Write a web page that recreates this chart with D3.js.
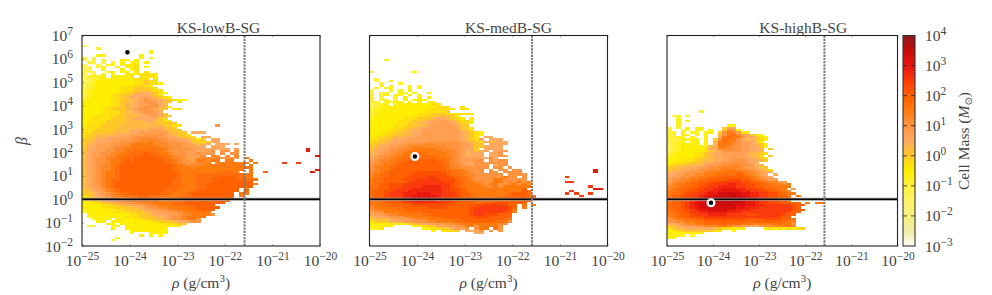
<!DOCTYPE html>
<html>
<head>
<meta charset="utf-8">
<script src="https://cdn.jsdelivr.net/npm/d3@7/dist/d3.min.js"></script>
<style>
html, body { margin: 0; padding: 0; background: #fff; }
text { font-family: "Liberation Serif", serif; fill: #444; }
</style>
</head>
<body>
<svg id="chart" width="992" height="295">
<defs><filter id="soft" x="-2%" y="-2%" width="104%" height="104%"><feGaussianBlur stdDeviation="0.4"/></filter></defs>
</svg>
<script>
// every char is one 0.1 dex x 0.1 dex bin, '.' is empty
// char is base 36, value n means log10(cell mass) = -2 + n * 0.25
var rhoDecades = [-25, -24, -23, -22, -21, -20];
var betaDecades = [-2, -1, 0, 1, 2, 3, 4, 5, 6, 7];
var massDecades = [-3, -2, -1, 0, 1, 2, 3, 4];
var titles = ["KS-lowB-SG", "KS-medB-SG", "KS-highB-SG"];
var topRows = [85, 79, 57];
var critRho = 2.6e-22;
var starRho = [9e-25, 9e-25, 9e-25];
var starBeta = [1.9e6, 67, 0.71];

var lowBRows = [
"2",
"...4",
"..............6",
"..............6",
"...56.......6",
"4.4.........5.6",
"3.4.5...66.6",
".44.4.5.6.56.6",
"3..4.55.5667",
"33.45..5.667.6",
"33..5...6.67",
"334..55.66.6.7",
"3.4.5.6..6667777",
"34556.66667.7776",
"33456566666777.7",
"3346666666677877",
"34566666666778776",
"345666666777877",
"3456666677788877",
"45666666777888877",
"456666677889aa9876",
"45666677889aaa987",
"4566667789aaaba9876",
"566666778899bcbaa98766",
"66666677899abccba98.7",
"666666778a9abbcca9",
"66666778899abccca96",
"6666778889abccba98.77",
"66666777899abccba",
"666677778999abbba8",
"666777788999aabba98",
"66777788899aaaaa87",
"6677788889999aa9877",
"67777888899999a98888",
"677788889999999998877.......c",
"77778888999999aaa988",
"7778888999aaaabbb9988",
"7788889999aabbbbbb9988.aaa",
"7889999aaabbbccccba9887",
"78899aaaabbcccccbbaa9887.aa",
"889aaabbbbccddddccbbaa9878.aa",
"899aaabbcccdddeddcccbba8878aa",
"89aabbbcccdeeeedddcccbba99a.aaa.a",
"8aabbbccddeeeeeeddcccbbbaa.aaa",
"8aabbccdde" + "eeeefeeedc" + "cccbbaabaa" + "a.b......." + ".......k",
"9aabbccdde" + "effffeedcc" + "ccbbaabc.c" + "c.c......." + ".......k",
"9abbccddee" + "fffgffeedc" + "ccbbcbbc.c" + ".cc",
"9abbcddeef" + "ffgggffeed" + "ccbbbc.dc." + "c.d......." + ".........k",
"9abccddeff" + "fgggggffed" + "dcbbcddcdc" + "ccc.e",
"9abccdeefg" + "fggggggffe" + "dccbeedee." + "ee...e",
"9abccdeefg" + "gggggggffe" + "dcccdde.de" + "eeeee.e.....i..i",
"9abcddefgg" + "gggggggggf" + "edcdddeeee" + "eeee.e",
"9abcddefgg" + "gggggggggf" + "eeedeeeeee" + "eeeeee",
"9abcddefgg" + "gggggggggf" + "eeeeeeeeee" + "eeee.e............." + "k",
"9abcdeefgg" + "gggggggggg" + "feeeeeeeef" + "fee..e..g.........k",
"9abcdeefgg" + "gggggggggg" + "feeeffffff" + "ffffee",
"9abcdeefgg" + "gggggggggg" + "feeefffffg" + "ggffee",
"9abcdeffgg" + "gggggggggf" + "feeefffggg" + "gggfffe",
"9abcdefggg" + "gggggggggf" + "feeefffggg" + "gggggg",
"9abcdefggg" + "gggggggggf" + "feeeffgggg" + "gggggfe",
"9abbdefggg" + "ggggggggff" + "feeeffgggg" + "gggggg",
"99abcdefgg" + "gggggggfff" + "eeeeffgggg" + "ggg.e",
"89abcdefgg" + "gggggggfff" + "eeefgggggg" + "ggg.g",
"889abcdeff" + "ggggggfffe" + "eefggggggg" + "gg.ee",
"789abcddef" + "ffggfffeee" + "effggggggg" + "gg.e",
"6789abcdde" + "efgffeeeee" + "fggggggggg" + "gg",
"6778aabccd" + "deeeeeeeee" + "ffgggggggg" + "g",
"6677899abb" + "ccdddeeeef" + "fggggggggg",
"666677889a" + "abbcddeeef" + "ffgggggg",
"6666677888" + "99abccddee" + "eeffggggg",
"5666666778" + "889aabbcdd" + "eeefgggg",
"5666667777" + "8889aabbbc" + "cdeeefe",
".566666666" + "77889aaabb" + "cddeeeec",
".556666667" + "7788899abc" + "cdeeee",
"..5666.666" + "6778899abc" + "cdeec",
"...66.6666" + "6666778889" + "aabcc",
".....66.66" + "6666666777" + "88",
".44...56.6" + "6666666666" + "7",
"......6..6" + "66666666",
"..........66666666",
"..........6...6666",
"............6.6.6",
".......5",
"......5"
];

var medBRows = [
"...5",
"",
"",
"",
"",
"4........6",
"",
"",
".4",
".4..5",
"..4...5",
"..5.5...5.5",
".5.55...5.5",
"3...5.5.6",
"3.45..55.5..6",
"4.45.55.6.6",
"4.4..5.6..6.6",
"4.55.5.6.666",
"45.5556.6.6.66",
"3455.5666666677",
"34566666666666777..7",
"456666666666777777.77",
"45666666666677778",
"4566666666777888777776",
"5666666667778889986",
"56666667778889aa9876.6",
"566666777889aabbba8786",
"66666677889aabbbba9876",
"666667778899abbbbba88",
"6666677889aabbbbbba887",
"666677889aabbbbbbbb987",
"666778899aabbbbbbbba9876",
"667788999aabbbbbbbba9876",
"6778899aaabbbbbbbbba987.aa",
"77889aaabbbbbbbbbbba987a.aaa",
"7889aaabbbbbcccccccba987a8aaa",
"8899aabbcccdddcccccbba88.aaaa",
"89aabbccddddddddcccbba88aaaa",
"89abbccddeeeeedddccbaa8.aaaa",
"9aabccddeeeeeeedddcbaa8aa.abb",
"9abccddeefffeeeeddcb9aaa.aac",
"abccddeeffffffeeddcbaaaa.aabb",
"abcddeefffffffeeedcbbbbaaca",
"bcddeeffggggggffedcbbbcc.cacc",
"bcdeeffggggggggffdcbaaccbcccc",
"cddeefgggggggggfeddcbaccc.acc",
"cdeefggggggggggffddcccccc.cc.c",
"cdeefggggg" + "ggggggffee" + "dccc.c.cc." + "cc........" + ".......k",
"ddefgggggg" + "hhhhhggffe" + "dccc.cc.cc" + "cc........" + ".......k",
"deffgggggh" + "hhhhhhgffe" + "ddcccccc.c" + "ccc",
"deffgggghh" + "hhiihhhgff" + "edccccccec" + "c.c........i",
"effgggghhh" + "iiiiihhhgf" + "edcccceecc" + "ccc",
"effggggghi" + "iiiiiihhgf" + "eeddcceecd" + "cece.......ii",
"efgghhhiii" + "iiiiiiihgf" + "eeedceeccd" + "ecec",
"ffgghhhiii" + "ijjjjiihgf" + "eeeedcecee" + "eeee............i",
"ffgghhiiij" + "jjjjjiihhg" + "feeeeeeeee" + "eeg..............kk",
"fgghhiiijj" + "jjjjjiihhg" + "feeeeeeeee" + "eegf........i",
"fgghiiijjj" + "kkkjjiiihg" + "gfeeeeeeef" + "gggf.......i.i..i",
"fgghiiijjk" + "kkkkjiiihg" + "gfeeeeeefg" + "gggff.........i",
"fgghhiijjk" + "kkkjjiihhg" + "gffeeeffgg" + "ggggg",
"eefgghhiij" + "jjjjiiihhg" + "ggfffffggg" + "gggg",
"eeffggghhi" + "iiiiihhhgg" + "ggffgghhhg" + "ggg",
"eefffggggh" + "hhhhhhhggg" + "gghhiiihhg" + "g.e.e",
"deeefffggg" + "gghhhhgggg" + "ghhiiiiiih" + "g.e",
"cdeeeeffgg" + "gggggggggg" + "ghiiiiiiih" + "e",
"bcceeeefff" + "fggggggggg" + "ghiiiiiihg" + "e",
"abbcddeeee" + "effggggggg" + "ghiihhhggg",
"9aabbccdde" + "eeeffggggg" + "gghhhggggf",
"8999aabbcc" + "ddeeeefffg" + "ggggggggfe",
"6888aaabbc" + "ccddeeeeff" + "ggggggffec",
"6666666688" + "9aabbbccde" + "eeeeeeedc",
"55666....6" + "6788aabbcc" + "eeceeeec",
"556......." + ".667788abb" + "c.cee.ec",
"..........." + "..6.6778.a" + "aac.c.c",
"......................aa"
];

var highBRows = [
".......5",
"",
".44.5",
"..5",
"..5.5",
"..5",
"..5..........66",
"4.4.5.55....8aa",
"4..45.55.5..8cc6",
"45.5.55.56.8cedb76",
"44.55.5.5..9cefdba866",
"4455.5..6..aefeecaa876",
"4445555.5.8cfeeca9a876",
"3455.56.6.aefedcbba86",
"3456656.6.9eeedcbba986",
"3456666659aeedccbbaa86",
"345666667aadddccbbaa9.8",
"34566666789accccbbaa9",
"4566667789aabbbbba9987",
"5566667789aabbbbaa987.8",
"56666778899aabbbbaa987",
"6667778899aabbcccbaa98",
"67778899aabbcccccba9",
"77888999abbccdddccba9",
"8899aaabbccdddddcbba88",
"899aabbccdddeeedddcba97",
"9aabbcccddeeefffeddcb9a",
"aabbccddeeeffffgfedcba.a",
"abbccddeeffggggggfedcba",
"bccddeeffgggghhhggfedcbb",
"bcddeffgghhhiiiihhggfeddcb",
"cdeeffgghhiiijjiihhggfeedce",
"ddeffgghhiijjjjiihhggffeeee",
"deffgghhiijjkkkjjiihhggfee.b",
"eefgghhiijjkkkkkjjiihhggfed",
"effghhiijkkllmllkkjjiihhgfee",
"fgghhiijkkllmmmllkjjiihhgge.e",
"fgghhiijkllmmmmmlkkjiihhggg",
"fgghhijkllmmmmmmlkkjiihhgge",
"fgghijkllmmmmmmllkkjiihhhgggg.e.ee",
"fgghijkllmmmmmlllkkjjiiiiiihgg",
"fgghijkllmlllllkkjjjiiiiiiihg",
"ffgghijkkllllkkjjjiiiiiiiiihgg",
"effghiijjkkkkjjjiiiiiiiiiihgg",
"eefgghiiijjjjiiiihhhiiiiihgg",
"defgghhhiiiiiiiiiiiiiiiihgg",
"cdeeffgghhhhhhhhhgggghhhhggf",
"ccddeeffgggggggggffggggggfed",
"aabcddeeffffgfffeeedeeeefeec",
"88aabbccdd" + "deedccbbaa" + "cccddeed",
"7899aaaaaa" + "9877666..." + ".676767678",
"6678888888" + "77..6",
"66666666",
"6665.5",
"55"
];

var allRows = [lowBRows, medBRows, highBRows];

var colorStops = [-3, -2.5, -2, -1.5, -1, -0.5, -0.25, 0, 0.5, 1, 1.5, 2, 2.5, 3, 3.5, 4];
var colorValues = ["#fffff2", "#f0eca6", "#f6f07c", "#fff469", "#fff03a", "#ffee00", "#ffdf10", "#ffc828", "#ffaa60",
    "#ff9440", "#ff7a10", "#ff6000", "#fa3a08", "#e81410", "#c80a0a", "#8a1a1a"];

var color = d3.scaleLinear().domain(colorStops).range(colorValues);

var svg = d3.select("#chart");
var panels = [
    {left: 82, right: 320, titleShift: 17.5},
    {left: 369.5, right: 607.5, titleShift: 20},
    {left: 667, right: 897.5, titleShift: 21}
];
var plotTop = 35.5, plotBottom = 246;

function powerLabel(sel, exp) {
    sel.text("10");
    sel.append("tspan")
        .attr("dy", -6)
        .attr("font-size", 11.5)
        .text(String(exp).replace("-", "\u2212"));
}

panels.forEach(function (p, i) {
    var x = d3.scaleLog().domain([1e-25, 1e-20]).range([p.left, p.right]);
    var y = d3.scaleLog().domain([1e-2, 1e7]).range([plotBottom, plotTop]);
    var g = svg.append("g").attr("class", "panel");

    var cells = [];
    allRows[i].forEach(function (row, k) {
        var r = topRows[i] - k;
        row.split("").forEach(function (ch, c) {
            if (ch === ".") return;
            cells.push({col: c, row: r, logMass: -2 + parseInt(ch, 36) * 0.25});
        });
    });

    g.append("g").attr("filter", "url(#soft)")
        .selectAll(".cell")
        .data(cells)
        .enter()
        .append("rect")
        .attr("class", "cell")
        .attr("shape-rendering", "crispEdges")
        .attr("x", function (d) { return x(Math.pow(10, -25 + d.col / 10)); })
        .attr("width", function (d) {
            return x(Math.pow(10, -25 + (d.col + 1) / 10)) - x(Math.pow(10, -25 + d.col / 10));
        })
        .attr("y", function (d) { return y(Math.pow(10, -2 + (d.row + 1) / 10)); })
        .attr("height", function (d) {
            return y(Math.pow(10, -2 + d.row / 10)) - y(Math.pow(10, -2 + (d.row + 1) / 10));
        })
        .attr("fill", function (d) { return color(d.logMass); });

    // beta = 1 line, grey halo under black
    g.append("line")
        .attr("x1", p.left).attr("x2", p.right)
        .attr("y1", y(1)).attr("y2", y(1))
        .attr("stroke", "#999").attr("stroke-width", 3);
    g.append("line")
        .attr("x1", p.left).attr("x2", p.right)
        .attr("y1", y(1)).attr("y2", y(1))
        .attr("stroke", "#000").attr("stroke-width", 1.6);

    g.append("line")
        .attr("x1", x(critRho)).attr("x2", x(critRho))
        .attr("y1", plotTop).attr("y2", plotBottom)
        .attr("stroke", "#777").attr("stroke-width", 2)
        .attr("stroke-dasharray", "2.2,1");

    g.append("circle")
        .attr("cx", x(starRho[i])).attr("cy", y(starBeta[i]))
        .attr("r", 3.4)
        .attr("fill", "#000")
        .attr("stroke", "#fff")
        .attr("stroke-width", 2.2);

    // axes
    var xAxis = d3.axisBottom(x).tickValues(rhoDecades.map(function (e) { return Math.pow(10, e); }))
        .tickSize(-2).tickPadding(9)
        .tickFormat("");
    var gx = g.append("g").attr("transform", "translate(0," + plotBottom + ")").call(xAxis);
    gx.select(".domain").remove();
    gx.selectAll(".tick line").attr("stroke", "#555").attr("stroke-width", 0.5);
    gx.selectAll(".tick text")
        .attr("font-size", 15.5)
        .attr("dy", null)
        .attr("y", 20)
        .attr("text-anchor", "middle")
        .each(function (d, n) { powerLabel(d3.select(this), rhoDecades[n]); });

    var topAxis = d3.axisTop(x).tickValues(rhoDecades.map(function (e) { return Math.pow(10, e); }))
        .tickSize(-2).tickFormat("");
    var gt = g.append("g").attr("transform", "translate(0," + plotTop + ")").call(topAxis);
    gt.select(".domain").remove();
    gt.selectAll(".tick line").attr("stroke", "#555").attr("stroke-width", 0.5);

    if (i === 0) {
        var yAxis = d3.axisLeft(y).tickValues(betaDecades.map(function (e) { return Math.pow(10, e); }))
            .tickSize(-2).tickPadding(4)
            .tickFormat("");
        var gy = g.append("g").attr("transform", "translate(" + p.left + ",0)").call(yAxis);
        gy.select(".domain").remove();
        gy.selectAll(".tick line").attr("stroke", "#555").attr("stroke-width", 0.5);
        gy.selectAll(".tick text")
            .attr("font-size", 15.5)
            .attr("dy", null)
            .attr("x", -9)
            .attr("y", 5)
            .attr("text-anchor", "end")
            .each(function (d, n) { powerLabel(d3.select(this), betaDecades[n]); });
    }

    g.append("rect")
        .attr("x", p.left).attr("y", plotTop)
        .attr("width", p.right - p.left).attr("height", plotBottom - plotTop)
        .attr("fill", "none")
        .attr("stroke", "#222").attr("stroke-width", 1.1);

    g.append("text")
        .attr("x", (p.left + p.right) / 2 + p.titleShift)
        .attr("y", 32.5)
        .attr("text-anchor", "middle")
        .attr("font-size", 15.5)
        .attr("fill", "#333")
        .text(titles[i]);

    var xl = g.append("text")
        .attr("x", (p.left + p.right) / 2)
        .attr("y", 288)
        .attr("text-anchor", "middle")
        .attr("font-size", 15.5);
    xl.append("tspan").attr("font-style", "italic").text("\u03c1");
    xl.append("tspan").text(" (g/cm");
    xl.append("tspan").attr("dy", -6).attr("font-size", 11).text("3");
    xl.append("tspan").attr("dy", 6).text(")");
});

svg.append("text")
    .attr("transform", "translate(27,141) rotate(-90)")
    .attr("text-anchor", "middle")
    .attr("font-size", 16)
    .attr("font-style", "italic")
    .text("\u03b2");

// colorbar
var barLeft = 903, barRight = 915;
var barScale = d3.scaleLinear().domain([-3, 4]).range([plotBottom, plotTop]);
var barSteps = d3.range(Math.round(plotTop), Math.round(plotBottom));
svg.selectAll(".barcell")
    .data(barSteps)
    .enter()
    .append("rect")
    .attr("class", "barcell")
    .attr("shape-rendering", "crispEdges")
    .attr("x", barLeft)
    .attr("width", barRight - barLeft)
    .attr("y", function (d) { return d; })
    .attr("height", 1)
    .attr("fill", function (d) { return color(barScale.invert(d + 0.5)); });

var barAxis = d3.axisRight(barScale).tickValues(massDecades).tickSize(0).tickPadding(10).tickFormat("");
var gb = svg.append("g").attr("transform", "translate(" + barRight + ",0)").call(barAxis);
gb.select(".domain").remove();
gb.selectAll(".tick text")
    .attr("font-size", 15.5)
    .attr("dy", null)
    .attr("y", 5)
    .attr("text-anchor", "start")
    .each(function (d, n) { powerLabel(d3.select(this), massDecades[n]); });
svg.selectAll(".bartick")
    .data(massDecades.slice(1, 7))
    .enter()
    .append("line")
    .attr("class", "bartick")
    .attr("x1", barLeft).attr("x2", barRight)
    .attr("y1", function (d) { return barScale(d); })
    .attr("y2", function (d) { return barScale(d); })
    .attr("stroke", "#222").attr("stroke-width", 0.8)
    .attr("stroke-dasharray", "4,4");
svg.append("rect")
    .attr("x", barLeft).attr("y", plotTop)
    .attr("width", barRight - barLeft).attr("height", plotBottom - plotTop)
    .attr("fill", "none")
    .attr("stroke", "#333").attr("stroke-width", 1.1);

var cbl = svg.append("text")
    .attr("transform", "translate(969,141) rotate(-90)")
    .attr("text-anchor", "middle")
    .attr("font-size", 15.5);
cbl.append("tspan").text("Cell Mass (");
cbl.append("tspan").attr("font-style", "italic").text("M");
cbl.append("tspan").attr("dy", 3).attr("font-size", 10).attr("font-family", "DejaVu Sans").text("\u2299");
cbl.append("tspan").attr("dy", -3).text(")");
</script>
</body>
</html>
